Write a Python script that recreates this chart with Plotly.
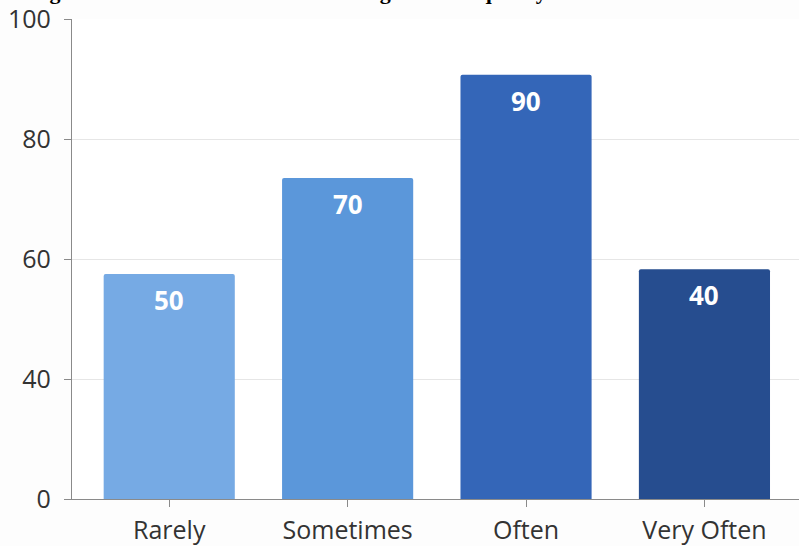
import plotly.graph_objects as go

categories = ["Rarely", "Sometimes", "Often", "Very Often"]
bar_heights = [57.5, 73.5, 90.7, 58.3]
bar_labels = [50, 70, 90, 40]
bar_colors = ["#76aae4", "#5b97da", "#3466b8", "#264d8f"]
ytick_vals = [20, 40, 60, 80, 100]
ytick_text = ["0", "40", "60", "80", "100"]
title_text = "Figure 1: Distribution of Student Usage and Frequency"

SANS = "Open Sans, Liberation Sans, Arial, sans-serif"

fig = go.Figure()
fig.add_trace(go.Bar(
    x=categories, y=bar_heights, width=0.735,
    marker=dict(color=bar_colors, line=dict(width=0), cornerradius=2),
    hoverinfo="skip",
))

for c, h, lab in zip(categories, bar_heights, bar_labels):
    fig.add_annotation(
        x=c, y=h, text=str(lab), showarrow=False, yanchor="top", yshift=-6,
        font=dict(family=SANS, size=26, color="white", weight="bold"),
    )

fig.add_annotation(
    xref="paper", yref="paper", x=-0.06, y=1, xanchor="left", yanchor="bottom",
    yshift=13, text=f"<b>{title_text}</b>", showarrow=False,
    font=dict(family="Liberation Serif, Times New Roman, serif", size=22, color="black"),
)

fig.update_layout(
    width=799, height=546,
    margin=dict(l=72, r=0, t=19, b=47),
    paper_bgcolor="#fdfdfd", plot_bgcolor="#ffffff",
    showlegend=False,
    font=dict(family=SANS, size=25, color="#333333"),
    bargap=0.2,
)
fig.update_xaxes(
    range=[-0.545, 3.53], showline=True, linecolor="#8a8a8a", linewidth=1.3,
    ticks="outside", ticklen=7, tickcolor="#8a8a8a", showgrid=False,
    tickfont=dict(family=SANS, size=25, color="#333333"),
    ticklabelstandoff=2,
)
fig.update_yaxes(
    range=[20, 100], tickvals=ytick_vals, ticktext=ytick_text,
    showline=True, linecolor="#8a8a8a", linewidth=1.3,
    ticks="outside", ticklen=7, tickcolor="#8a8a8a",
    showgrid=True, gridcolor="#e6e6e6", gridwidth=1, zeroline=False,
    tickfont=dict(family=SANS, size=25, color="#333333"),
    ticklabelstandoff=8,
)

fig.write_html("out.html")
